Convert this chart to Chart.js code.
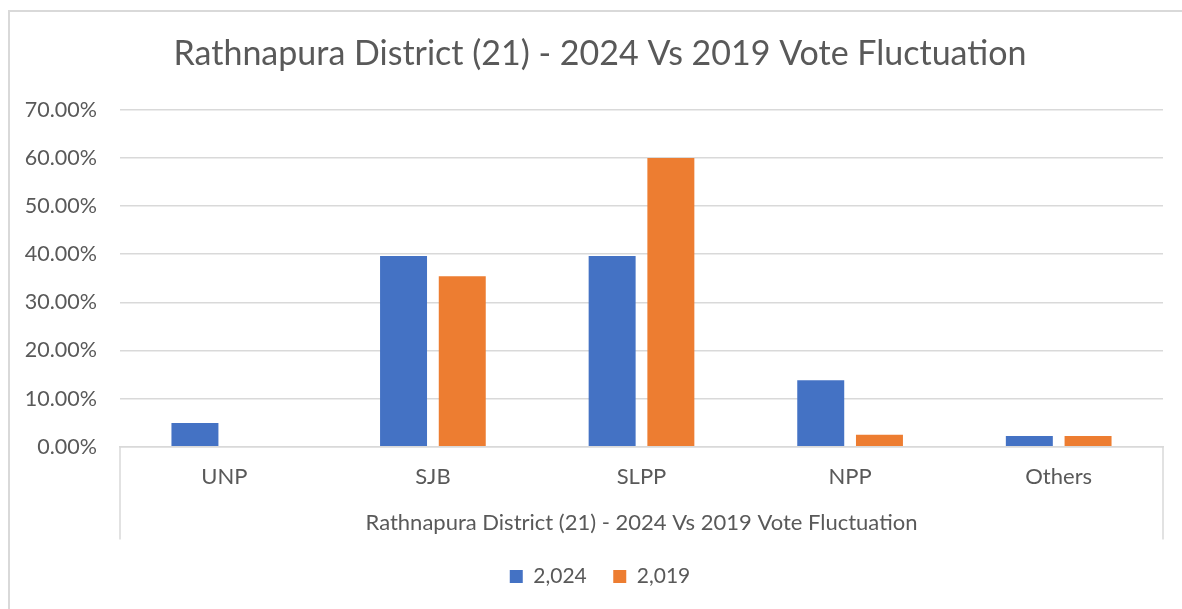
<!DOCTYPE html>
<html>
<head>
<meta charset="utf-8">
<script src="https://cdn.jsdelivr.net/npm/chart.js@4.4.1/dist/chart.umd.min.js"></script>
<style>
  html, body { margin: 0; padding: 0; background: #fff; }
  #wrap { position: relative; width: 1182px; height: 609px; }
  canvas { display: block; }
</style>
</head>
<body>
<div id="wrap"><canvas id="c" width="1182" height="609"></canvas></div>
<script>
const chartTitle = 'Rathnapura District (21) - 2024 Vs 2019 Vote Fluctuation';
const categories = ['UNP', 'SJB', 'SLPP', 'NPP', 'Others'];
const seriesNames = ['2,024', '2,019'];
const values2024 = [4.9, 39.6, 39.6, 13.8, 2.2];
const values2019 = [0, 35.4, 60.0, 2.5, 2.2];
const yTickLabels = ['0.00%', '10.00%', '20.00%', '30.00%', '40.00%', '50.00%', '60.00%', '70.00%'];

const FONT = 'Lato, "Open Sans", sans-serif';
const TXT = '#595959';
const GRID = '#D9D9D9';

const framePlugin = {
  id: 'frame',
  beforeDraw(chart) {
    const ctx = chart.ctx;
    ctx.save();
    ctx.fillStyle = GRID;
    ctx.fillRect(8, 10, 2, chart.height - 10);
    ctx.fillRect(8, 10, chart.width - 8, 2);
    ctx.restore();
  },
  afterDraw(chart) {
    const ctx = chart.ctx;
    const a = chart.chartArea;
    const xs = chart.scales.x;
    ctx.save();
    ctx.strokeStyle = GRID;
    ctx.lineWidth = 1.5;
    ctx.beginPath();
    ctx.moveTo(a.left, a.bottom);
    ctx.lineTo(a.left, xs.bottom);
    ctx.moveTo(a.right, a.bottom);
    ctx.lineTo(a.right, xs.bottom);
    ctx.stroke();
    ctx.restore();
  }
};

new Chart(document.getElementById('c'), {
  type: 'bar',
  data: {
    labels: categories,
    datasets: [
      { label: seriesNames[0], data: values2024, backgroundColor: '#4472C4', yAxisID: 'y' },
      { label: seriesNames[1], data: values2019, backgroundColor: '#ED7D31', yAxisID: 'y' }
    ]
  },
  options: {
    responsive: false,
    animation: false,
    devicePixelRatio: 1,
    layout: { padding: { left: 18, right: 0, top: 22, bottom: 12 } },
    datasets: { bar: { categoryPercentage: 0.563, barPercentage: 0.8 } },
    plugins: {
      title: {
        display: true,
        text: chartTitle,
        color: TXT,
        font: { family: FONT, size: 34, weight: 'normal' },
        padding: { top: 12, bottom: 35 }
      },
      legend: {
        position: 'bottom',
        labels: {
          color: TXT,
          font: { family: FONT, size: 21 },
          boxWidth: 13,
          boxHeight: 13,
          padding: 26.5
        }
      },
      tooltip: { enabled: false }
    },
    scales: {
      x: {
        grid: { display: false, drawTicks: false },
        border: { display: true, color: GRID, width: 1.5 },
        ticks: { color: TXT, font: { family: FONT, size: 22 }, padding: 17 },
        title: {
          display: true,
          text: chartTitle,
          color: TXT,
          font: { family: FONT, size: 22 },
          padding: { top: 3, bottom: 3 }
        }
      },
      y: {
        position: 'left',
        min: 0,
        max: 70,
        ticks: {
          stepSize: 10,
          color: TXT,
          font: { family: FONT, size: 21.5 },
          padding: 23,
          callback: (v, i) => yTickLabels[i]
        },
        grid: { color: GRID, lineWidth: 1.5, drawTicks: false },
        border: { display: false },
        afterFit(s) { s.width = 102; }
      },
      yR: {
        position: 'right',
        display: true,
        min: 0,
        max: 70,
        grid: { display: false, drawTicks: false },
        border: { display: false },
        ticks: { display: false },
        afterFit(s) { s.width = 19; }
      }
    }
  },
  plugins: [framePlugin]
});
</script>
</body>
</html>
